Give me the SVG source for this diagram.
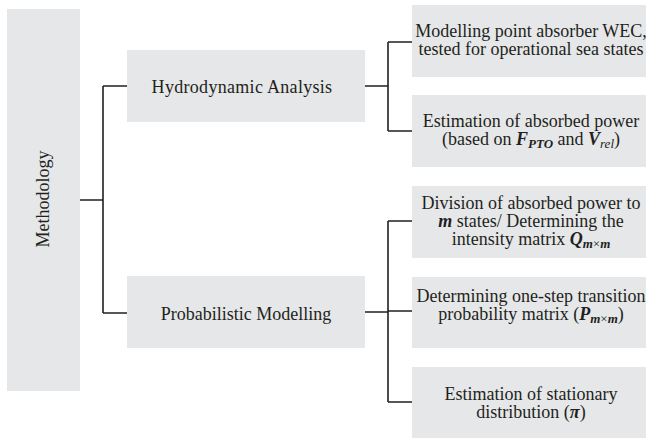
<svg xmlns="http://www.w3.org/2000/svg" width="646" height="438" viewBox="0 0 646 438">
<style>
.box{fill:#e6e7e8;stroke:none}
.t{font-family:"Liberation Serif","Times New Roman",serif;font-size:18px;fill:#231f20}
.m{font-weight:bold;font-style:italic}
.s{font-size:13px}
.c{fill:none;stroke:#231f20;stroke-width:1.6}
</style>
<rect width="646" height="438" fill="#ffffff"/>
<g id="connectors">
<path class="c" d="M80 200H103M103 86V313M103 86H127M103 313H127"/>
<path class="c" d="M365 86H388M388 42V131M388 42H412M388 131H412"/>
<path class="c" d="M365 312H388M388 221V402M388 221H412M388 311H412M388 402H412"/>
</g>
<g id="methodology">
<rect class="box" x="7" y="9" width="73" height="382"/>
<text class="t" transform="translate(49 199) rotate(-90)" text-anchor="middle">Methodology</text>
</g>
<g id="hydrodynamic">
<rect class="box" x="127" y="50" width="238" height="72"/>
<text class="t" x="242" y="93" text-anchor="middle" letter-spacing="0.3">Hydrodynamic Analysis</text>
</g>
<g id="probabilistic">
<rect class="box" x="127" y="276" width="238" height="72"/>
<text class="t" x="246" y="320" text-anchor="middle">Probabilistic Modelling</text>
</g>
<g id="modelling">
<rect class="box" x="412" y="5" width="240" height="72"/>
<text class="t" x="531" y="37" text-anchor="middle">Modelling point absorber WEC,</text>
<text class="t" x="531" y="55" text-anchor="middle">tested for operational sea states</text>
</g>
<g id="power">
<rect class="box" x="412" y="95" width="240" height="72"/>
<text class="t" x="531" y="127" text-anchor="middle">Estimation of absorbed power</text>
<text class="t" x="531" y="145" text-anchor="middle">(based on <tspan class="m">F</tspan><tspan class="m s" font-size="14" dy="3">PTO</tspan><tspan dy="-3"> and </tspan><tspan class="m">V</tspan><tspan class="s" font-size="14" font-style="italic" dy="3">rel</tspan><tspan dy="-3">)</tspan></text>
</g>
<g id="division">
<rect class="box" x="412" y="186" width="240" height="72"/>
<text class="t" x="531" y="209" text-anchor="middle">Division of absorbed power to</text>
<text class="t" x="531" y="227" text-anchor="middle"><tspan class="m">m</tspan> states/ Determining the</text>
<text class="t" x="531" y="245" text-anchor="middle">intensity matrix <tspan class="m">Q</tspan><tspan class="s m" dy="3">m</tspan><tspan class="s">×</tspan><tspan class="s m">m</tspan></text>
</g>
<g id="transition">
<rect class="box" x="412" y="277" width="240" height="71"/>
<text class="t" x="531" y="302" text-anchor="middle">Determining one-step transition</text>
<text class="t" x="531" y="320" text-anchor="middle">probability matrix (<tspan class="m">P</tspan><tspan class="s m" dy="3">m</tspan><tspan class="s">×</tspan><tspan class="s m">m</tspan><tspan dy="-3">)</tspan></text>
</g>
<g id="stationary">
<rect class="box" x="412" y="367" width="240" height="71"/>
<text class="t" x="531" y="400" text-anchor="middle">Estimation of stationary</text>
<text class="t" x="531" y="418" text-anchor="middle">distribution (<tspan class="m">π</tspan>)</text>
</g>
</svg>
